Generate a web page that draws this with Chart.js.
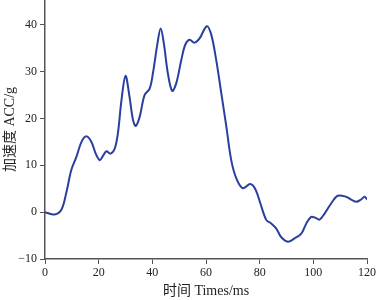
<!DOCTYPE html>
<html>
<head>
<meta charset="utf-8">
<script src="https://cdn.jsdelivr.net/npm/chart.js@4.4.1/dist/chart.umd.min.js"></script>
<style>
  html, body { margin: 0; padding: 0; background: #fff; }
  canvas { display: block; }
</style>
</head>
<body>
<canvas id="accChart" width="377" height="300"></canvas>
<script>
// time axis (ms) and acceleration (g)
var timeMs = [0, 3.6, 6.1, 8, 9.8, 11.7, 13.6, 15.4, 17.3, 18.9, 20.4, 21.6, 22.9, 24.4, 26, 27.2,
    28.5, 30, 31.5, 32.8, 33.8, 35.3, 37.1, 39, 40.2, 41.9, 43.1, 44.3, 45.8, 47.4, 48.9, 50.8,
    52.3, 53.9, 55.7, 57.6, 60.3, 62, 63.8, 65.7, 67.6, 69.4, 71.3, 73.7, 76.5, 78.4, 80.3, 82.5,
    84.3, 86.2, 88, 90.5, 93, 95.5, 97.4, 99.2, 100.8, 102.3, 104.2, 106.7, 109.1, 112.2, 114.1,
    116, 117.8, 119.1, 120];
var accG = [0, -0.5, 0.5, 4.3, 9, 11.8, 15, 16.2, 15, 12.5, 11.1, 12, 13, 12.5, 13.6, 17,
    23.9, 29.1, 24.6, 19.7, 18.4, 20.4, 25, 26.4, 29.6, 36, 39.2, 36, 29.6, 25.9, 27.5, 32.5,
    35.8, 36.8, 36.2, 37.1, 39.7, 37.8, 32.5, 25.4, 18.2, 11.1, 7.2, 5.1, 6, 4.9, 1.8, -1.7,
    -2.4, -3.5, -5.3, -6.3, -5.6, -4.6, -2.4, -1, -1.2, -1.6, -0.3, 1.9, 3.5, 3.3, 2.7,
    2.2, 2.7, 3.3, 2.7];
var xTicks = [0, 20, 40, 60, 80, 100, 120];
var yTicks = [-10, 0, 10, 20, 30, 40];

var points = timeMs.map(function (t, i) { return { x: t, y: accG[i] }; });

var serif = '"Liberation Serif", "Noto Sans CJK SC", serif';
var axisColor = '#555';

var ctx = document.getElementById('accChart').getContext('2d');
new Chart(ctx, {
    type: 'line',
    data: {
        datasets: [{
            data: points,
            borderColor: '#2a3f9d',
            borderWidth: 2,
            pointRadius: 0,
            fill: false,
            tension: 0.35
        }]
    },
    options: {
        responsive: false,
        animation: false,
        layout: { padding: { left: 0, right: 10, top: 0, bottom: 0 } },
        plugins: { legend: { display: false }, tooltip: { enabled: false } },
        scales: {
            x: {
                type: 'linear',
                min: 0,
                max: 120,
                afterBuildTicks: function (scale) {
                    scale.ticks = xTicks.map(function (v) { return { value: v }; });
                },
                afterFit: function (scale) {
                    scale.height = 41;
                    scale.paddingLeft = 0;
                    scale.paddingRight = 0;
                },
                border: { display: true, color: axisColor, width: 1.5 },
                grid: { display: true, drawOnChartArea: false, drawTicks: true, tickLength: 5, color: axisColor },
                ticks: { color: '#222', padding: 2, maxRotation: 0, font: { family: serif, size: 12 } },
                title: {
                    display: true,
                    text: '时间 Times/ms',
                    color: '#222',
                    padding: { top: 0, bottom: 0 },
                    font: { family: serif, size: 14 }
                }
            },
            y: {
                type: 'linear',
                min: -10,
                max: 45.3,
                afterBuildTicks: function (scale) {
                    scale.ticks = yTicks.map(function (v) { return { value: v }; });
                },
                afterFit: function (scale) {
                    scale.width = 45;
                    scale.paddingTop = 0;
                    scale.paddingBottom = 0;
                },
                border: { display: true, color: axisColor, width: 1.5 },
                grid: { display: true, drawOnChartArea: false, drawTicks: true, tickLength: 5, color: axisColor },
                ticks: {
                    color: '#222',
                    padding: 3,
                    font: { family: serif, size: 12 },
                    callback: function (v) { return v < 0 ? '\u2212' + Math.abs(v) : String(v); }
                },
                title: {
                    display: true,
                    text: '加速度 ACC/g',
                    color: '#222',
                    padding: { top: 2, bottom: 0 },
                    font: { family: serif, size: 14 }
                }
            }
        }
    }
});
</script>
</body>
</html>
